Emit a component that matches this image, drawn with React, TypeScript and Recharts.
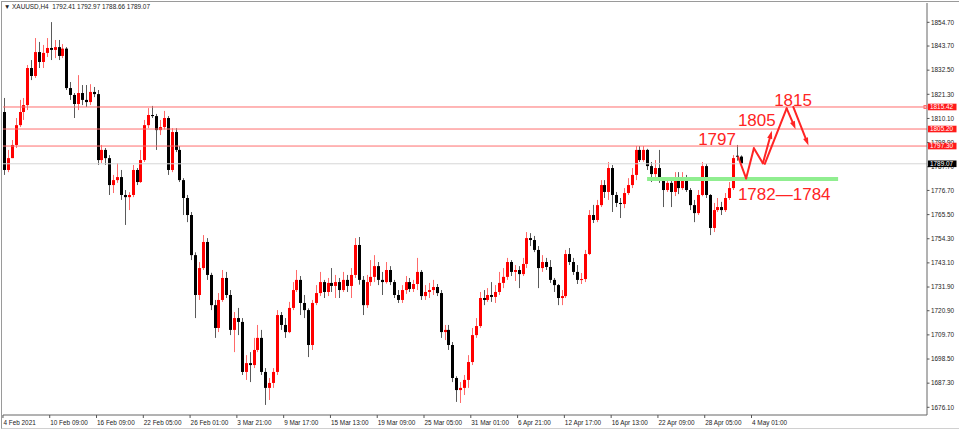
import {
  ComposedChart,
  Bar,
  XAxis,
  YAxis,
  ReferenceLine,
  ReferenceDot,
} from "recharts";

// H4 candles (one candle here ~ two H4 bars)
const opens = [
  1813.1, 1786.2, 1791.7, 1797.8, 1807.0, 1813.1, 1816.3, 1833.5, 1829.8, 1840.9,
  1836.3, 1840.5, 1842.8, 1841.9, 1843.2, 1839.1, 1842.5, 1824.2, 1821.0, 1816.8,
  1821.9, 1818.7, 1817.7, 1822.4, 1821.4, 1790.8, 1795.5, 1791.7, 1779.2, 1781.5,
  1782.9, 1774.6, 1773.6, 1774.6, 1786.2, 1780.6, 1790.8, 1807.0, 1811.7, 1811.2,
  1804.7, 1806.1, 1810.3, 1786.2, 1803.8, 1795.5, 1781.5, 1773.2, 1765.3, 1746.7,
  1728.2, 1740.7, 1752.8, 1737.5, 1723.5, 1712.9, 1725.9, 1736.1, 1728.2, 1712.0,
  1717.5, 1715.7, 1692.5, 1696.6, 1695.7, 1702.7, 1708.3, 1692.5, 1685.1, 1687.4,
  1692.5, 1718.9, 1714.3, 1711.0, 1722.2, 1730.5, 1735.2, 1724.5, 1721.2, 1705.0,
  1724.5, 1729.1, 1734.2, 1729.6, 1733.8, 1732.4, 1734.2, 1730.5, 1735.2, 1732.4,
  1737.5, 1751.4, 1735.2, 1723.5, 1734.2, 1736.6, 1741.6, 1735.2, 1734.2, 1739.8,
  1734.2, 1728.2, 1725.9, 1730.5, 1734.2, 1731.0, 1733.3, 1738.9, 1727.7, 1729.6,
  1730.5, 1731.9, 1729.1, 1711.0, 1712.0, 1705.0, 1689.7, 1684.1, 1685.1, 1688.8,
  1697.1, 1709.6, 1713.8, 1726.8, 1725.9, 1728.2, 1727.3, 1729.6, 1733.8, 1736.6,
  1743.5, 1738.9, 1739.8, 1737.9, 1742.6, 1754.6, 1753.7, 1749.1, 1740.7, 1743.5,
  1741.2, 1735.2, 1732.8, 1726.8, 1727.7, 1747.2, 1743.5, 1738.9, 1735.2, 1735.6,
  1747.2, 1765.3, 1763.0, 1769.9, 1779.2, 1776.0, 1787.1, 1774.6, 1770.9, 1770.4,
  1775.5, 1779.2, 1783.9, 1795.5, 1790.8, 1795.5, 1788.0, 1784.3, 1787.1, 1781.5,
  1776.9, 1780.2, 1776.0, 1782.5, 1777.8, 1782.5, 1776.9, 1769.9, 1766.2, 1774.6,
  1788.0, 1774.6, 1759.3, 1767.6, 1769.0, 1767.6, 1773.2, 1777.8, 1792.8, 1792.41,
];
const highs = [
  1819.6, 1795.5, 1800.1, 1810.3, 1818.7, 1819.6, 1834.9, 1837.2, 1847.4, 1845.6,
  1844.2, 1847.4, 1854.8, 1846.5, 1846.5, 1844.6, 1843.2, 1827.0, 1821.9, 1830.2,
  1825.6, 1825.6, 1826.0, 1824.7, 1823.3, 1797.8, 1796.4, 1793.1, 1783.9, 1789.4,
  1786.2, 1776.9, 1775.9, 1788.5, 1787.1, 1795.5, 1809.4, 1814.9, 1815.9, 1812.2,
  1809.4, 1813.6, 1811.2, 1805.6, 1805.6, 1797.3, 1782.4, 1774.6, 1766.7, 1748.0,
  1743.5, 1756.0, 1754.6, 1738.5, 1725.9, 1729.1, 1739.8, 1738.9, 1730.5, 1720.3,
  1722.2, 1717.5, 1700.3, 1701.7, 1708.3, 1714.3, 1712.0, 1694.3, 1689.7, 1694.3,
  1721.2, 1720.3, 1717.5, 1725.0, 1734.2, 1739.8, 1737.0, 1728.2, 1722.0, 1725.9,
  1732.8, 1738.9, 1735.2, 1736.1, 1740.7, 1737.5, 1736.1, 1738.9, 1737.5, 1740.7,
  1754.6, 1755.1, 1737.0, 1737.5, 1744.4, 1746.7, 1743.5, 1738.9, 1743.5, 1741.6,
  1735.2, 1730.5, 1732.8, 1737.0, 1736.1, 1735.2, 1745.4, 1739.8, 1732.8, 1733.8,
  1735.2, 1733.3, 1730.5, 1714.3, 1714.3, 1706.4, 1690.5, 1687.8, 1691.1, 1700.3,
  1712.9, 1717.5, 1729.6, 1730.5, 1731.4, 1734.2, 1732.8, 1738.9, 1740.7, 1745.4,
  1744.4, 1742.1, 1741.6, 1745.4, 1757.4, 1756.9, 1755.6, 1750.9, 1746.7, 1745.4,
  1744.4, 1736.1, 1733.3, 1730.5, 1749.1, 1750.0, 1745.4, 1742.1, 1738.4, 1749.1,
  1767.6, 1770.0, 1772.3, 1781.5, 1781.5, 1789.9, 1788.5, 1776.0, 1773.2, 1777.8,
  1782.4, 1787.1, 1797.3, 1797.3, 1797.3, 1796.0, 1789.9, 1790.8, 1795.5, 1782.5,
  1782.5, 1782.5, 1785.2, 1785.2, 1785.2, 1783.9, 1777.8, 1772.3, 1776.9, 1789.9,
  1789.0, 1775.0, 1770.9, 1773.2, 1771.4, 1775.5, 1780.6, 1793.1, 1797.8, 1792.97,
];
const lows = [
  1783.9, 1785.2, 1791.7, 1796.4, 1806.1, 1809.4, 1814.0, 1827.9, 1828.9, 1833.5,
  1833.5, 1838.6, 1837.2, 1838.1, 1837.2, 1838.1, 1823.3, 1818.7, 1810.3, 1814.0,
  1816.3, 1815.4, 1816.3, 1820.0, 1788.5, 1789.4, 1788.5, 1774.6, 1775.5, 1780.2,
  1772.3, 1760.7, 1767.6, 1773.6, 1779.2, 1780.2, 1789.9, 1805.6, 1810.3, 1795.5,
  1802.4, 1805.0, 1783.9, 1785.2, 1794.5, 1780.6, 1765.3, 1762.0, 1744.4, 1717.5,
  1725.9, 1739.8, 1735.2, 1721.2, 1708.3, 1711.0, 1725.0, 1726.8, 1709.6, 1701.7,
  1709.6, 1691.1, 1688.8, 1687.8, 1694.3, 1701.7, 1691.1, 1677.2, 1679.5, 1685.1,
  1691.1, 1712.0, 1708.3, 1710.5, 1721.2, 1729.6, 1718.9, 1717.5, 1699.4, 1702.7,
  1723.5, 1727.7, 1726.8, 1727.7, 1729.6, 1726.8, 1726.8, 1729.6, 1729.6, 1726.8,
  1736.1, 1733.0, 1718.9, 1722.2, 1732.4, 1734.2, 1732.8, 1728.2, 1733.5, 1732.8,
  1726.8, 1724.5, 1724.5, 1728.7, 1729.6, 1729.6, 1730.5, 1725.9, 1725.9, 1726.8,
  1728.2, 1727.7, 1708.3, 1707.3, 1702.7, 1687.8, 1678.6, 1678.1, 1681.8, 1685.1,
  1695.7, 1708.3, 1712.9, 1723.5, 1725.0, 1725.0, 1724.5, 1728.2, 1731.4, 1735.2,
  1737.0, 1734.7, 1731.4, 1737.0, 1740.7, 1750.9, 1748.1, 1731.4, 1738.9, 1739.8,
  1733.8, 1729.6, 1723.5, 1723.5, 1726.8, 1742.1, 1737.5, 1733.3, 1733.3, 1734.2,
  1746.7, 1761.6, 1762.0, 1769.0, 1773.2, 1772.3, 1766.7, 1769.0, 1763.9, 1768.5,
  1774.6, 1777.8, 1781.5, 1789.9, 1790.0, 1786.2, 1780.6, 1782.5, 1780.2, 1769.0,
  1776.0, 1769.0, 1774.1, 1775.0, 1776.9, 1776.0, 1767.6, 1762.0, 1765.3, 1774.0,
  1773.2, 1756.0, 1757.4, 1766.7, 1765.3, 1766.7, 1772.3, 1776.9, 1790.5, 1788.66,
];
const closes = [
  1786.2, 1791.7, 1797.8, 1807.0, 1813.1, 1816.3, 1833.5, 1829.8, 1840.9, 1836.3,
  1840.5, 1842.8, 1841.9, 1843.2, 1839.1, 1842.5, 1824.2, 1821.0, 1816.8, 1821.9,
  1818.7, 1817.7, 1822.4, 1821.4, 1790.8, 1795.5, 1791.7, 1779.2, 1781.5, 1782.9,
  1774.6, 1773.6, 1774.6, 1786.2, 1780.6, 1790.8, 1807.0, 1811.7, 1811.2, 1804.7,
  1806.1, 1810.3, 1786.2, 1803.8, 1795.5, 1781.5, 1773.2, 1765.3, 1746.7, 1728.2,
  1740.7, 1752.8, 1737.5, 1723.5, 1712.9, 1725.9, 1736.1, 1728.2, 1712.0, 1717.5,
  1715.7, 1692.5, 1696.6, 1695.7, 1702.7, 1708.3, 1692.5, 1685.1, 1687.4, 1692.5,
  1718.9, 1714.3, 1711.0, 1722.2, 1730.5, 1735.2, 1724.5, 1721.2, 1705.0, 1724.5,
  1729.1, 1734.2, 1729.6, 1733.8, 1732.4, 1734.2, 1730.5, 1735.2, 1732.4, 1737.5,
  1751.4, 1735.2, 1723.5, 1734.2, 1736.6, 1741.6, 1735.2, 1734.2, 1739.8, 1734.2,
  1728.2, 1725.9, 1730.5, 1734.2, 1731.0, 1733.3, 1738.9, 1727.7, 1729.6, 1730.5,
  1731.9, 1729.1, 1711.0, 1712.0, 1705.0, 1689.7, 1684.1, 1685.1, 1688.8, 1697.1,
  1709.6, 1713.8, 1726.8, 1725.9, 1728.2, 1727.3, 1729.6, 1733.8, 1736.6, 1743.5,
  1738.9, 1739.8, 1737.9, 1742.6, 1754.6, 1753.7, 1749.1, 1740.7, 1743.5, 1741.2,
  1735.2, 1732.8, 1726.8, 1727.7, 1747.2, 1743.5, 1738.9, 1735.2, 1735.6, 1747.2,
  1765.3, 1763.0, 1769.9, 1779.2, 1776.0, 1787.1, 1774.6, 1770.9, 1770.4, 1775.5,
  1779.2, 1783.9, 1795.5, 1790.8, 1795.5, 1788.0, 1784.3, 1787.1, 1781.5, 1776.9,
  1780.2, 1776.0, 1782.5, 1777.8, 1782.5, 1776.9, 1769.9, 1766.2, 1774.6, 1788.0,
  1774.6, 1759.3, 1767.6, 1769.0, 1767.6, 1773.2, 1777.8, 1791.7, 1792.4, 1789.07,
];

const slotCount = 237; // candles + empty space on the right
const timeLabels = [
  "4 Feb 2021", "10 Feb 09:00", "16 Feb 09:00", "22 Feb 05:00", "26 Feb 01:00",
  "3 Mar 21:00", "9 Mar 17:00", "15 Mar 13:00", "19 Mar 09:00", "25 Mar 05:00",
  "31 Mar 01:00", "6 Apr 21:00", "12 Apr 17:00", "16 Apr 13:00", "22 Apr 09:00",
  "28 Apr 05:00", "4 May 01:00",
];
const priceTicks = [
  1676.1, 1687.3, 1698.5, 1709.7, 1720.9, 1731.9, 1743.1, 1754.3, 1765.5,
  1776.7, 1787.7, 1798.9, 1810.1, 1821.3, 1832.5, 1843.7, 1854.7,
];
const levels = [1815.42, 1805.2, 1797.3];
const lastPrice = 1789.07;
const zone = { from: 164.7, to: 213.7, price: 1782.0 };

const notes = [
  { text: "1797", i: 177.8, p: 1797.8 },
  { text: "1805", i: 188.0, p: 1806.4 },
  { text: "1815", i: 197.3, p: 1816.1 },
  { text: "1782\u20141784", i: 188.0, p: 1772.3 },
];

// forecast path: [i1, p1, i2, p2, arrowhead]
const path: [number, number, number, number, boolean][] = [
  [188.1, 1792.1, 190.1, 1782.3, false],
  [190.1, 1782.3, 192.1, 1796.3, false],
  [192.1, 1796.3, 194.4, 1789.3, false],
  [194.4, 1789.3, 196.7, 1804.4, true],
  [194.9, 1789.0, 200.5, 1814.8, false],
  [200.5, 1814.8, 202.8, 1805.1, true],
  [202.2, 1815.5, 206.1, 1797.5, true],
];

const data = Array.from({ length: slotCount }, (_, i) =>
  i < closes.length
    ? { i, o: opens[i], h: highs[i], l: lows[i], c: closes[i] }
    : { i }
);

const RED = "#ff2424";
const AXIS_FONT = "'Liberation Sans', Arial, sans-serif";

const Candle = (props: any) => {
  const { x, y, width, height, payload } = props;
  if (payload == null || payload.c == null || height == null) return <g />;
  const { o, h, l, c } = payload;
  const top = Math.min(y, y + height);
  const span = Math.abs(height);
  const k = h === l ? 0 : span / (h - l);
  const up = c >= o;
  const cx = Math.floor(x + width / 2) + 0.5;
  const bTop = top + (h - Math.max(o, c)) * k;
  const bBot = top + (h - Math.min(o, c)) * k;
  return (
    <g>
      <line
        x1={cx}
        x2={cx}
        y1={top}
        y2={top + span}
        stroke={up ? "#ff6a6a" : "#5a5a5a"}
        strokeWidth={1}
      />
      <rect
        x={cx - 1.5}
        y={bTop}
        width={3}
        height={Math.max(1, bBot - bTop)}
        fill={up ? "#ff0000" : "#000000"}
      />
    </g>
  );
};

const TimeTick = (props: any) => {
  const { x, payload } = props;
  const label = timeLabels[payload.value / 12];
  if (!label) return <g />;
  return (
    <g>
      <line x1={x - 2} x2={x - 2} y1={415} y2={418} stroke="#555" />
      <text x={x - 1.5} y={424.5} fontSize={6.4} fill="#222" fontFamily={AXIS_FONT}>
        {label}
      </text>
    </g>
  );
};

const PriceTick = (props: any) => {
  const { y, payload } = props;
  const v = payload.value;
  const isLevel = levels.includes(v);
  const isLast = v === lastPrice;
  if (isLevel || isLast) {
    return (
      <g>
        {isLevel && v === levels[0] && (
          <rect x={924} y={y - 1.5} width={3} height={3} fill="none" stroke="#ff6e6e" />
        )}
        <rect x={928} y={y - 3.3} width={28.5} height={6.6} fill={isLast ? "#000" : "#ff1a1a"} />
        <text x={930} y={y + 2.3} fontSize={6.4} fill="#fff" fontFamily={AXIS_FONT}>
          {v.toFixed(2)}
        </text>
      </g>
    );
  }
  return (
    <g>
      <line x1={927} x2={929.5} y1={y} y2={y} stroke="#555" />
      <text x={931} y={y + 2.3} fontSize={6.4} fill="#222" fontFamily={AXIS_FONT}>
        {v.toFixed(2)}
      </text>
    </g>
  );
};

const arrowShape = (head: boolean) => (p: any) => {
  const { x1, y1, x2, y2 } = p;
  const a = Math.atan2(y2 - y1, x2 - x1);
  const len = 8;
  const w = 2.6;
  const bx = x2 - len * Math.cos(a);
  const by = y2 - len * Math.sin(a);
  const pts = `${x2},${y2} ${bx + w * Math.sin(a)},${by - w * Math.cos(a)} ${
    bx - w * Math.sin(a)
  },${by + w * Math.cos(a)}`;
  return (
    <g>
      <line
        x1={x1}
        y1={y1}
        x2={head ? bx : x2}
        y2={head ? by : y2}
        stroke={RED}
        strokeWidth={2}
        strokeLinecap="round"
      />
      {head && <polygon points={pts} fill={RED} />}
    </g>
  );
};

export default function App() {
  return (
    <div
      style={{
        position: "absolute",
        left: 0,
        top: 0,
        width: 960,
        height: 429,
        background: "#fff",
        overflow: "hidden",
      }}
    >
      <ComposedChart
        width={960}
        height={429}
        data={data}
        margin={{ top: 3, right: 0, bottom: 0, left: 3 }}
      >
        <XAxis
          dataKey="i"
          type="category"
          interval={11}
          height={14}
          tickLine={false}
          axisLine={{ stroke: "#666" }}
          tick={<TimeTick />}
        />
        <XAxis
          xAxisId="num"
          dataKey="i"
          type="number"
          domain={[-0.5, slotCount - 0.5]}
          allowDataOverflow
          hide
        />
        <YAxis
          orientation="right"
          width={33}
          type="number"
          domain={[1672.53, 1863.66]}
          allowDataOverflow
          ticks={[...priceTicks, ...levels, lastPrice]}
          interval={0}
          tickLine={false}
          axisLine={{ stroke: "#666" }}
          tick={<PriceTick />}
        />
        {levels.map((v) => (
          <ReferenceLine key={v} y={v} stroke="#ff6e6e" strokeWidth={1} />
        ))}
        <ReferenceLine y={lastPrice} stroke="#d6d6d6" strokeWidth={1} />
        <ReferenceLine
          xAxisId="num"
          segment={[
            { x: zone.from, y: zone.price },
            { x: zone.to, y: zone.price },
          ]}
          stroke="#90ee90"
          strokeWidth={4}
        />
        <Bar
          dataKey={(d: any) => (d.c == null ? null : [d.l, d.h])}
          shape={Candle}
          barSize={3}
          isAnimationActive={false}
        />
        {path.map(([i1, p1, i2, p2, head], k) => (
          <ReferenceLine
            key={`seg-${k}`}
            xAxisId="num"
            segment={[
              { x: i1, y: p1 },
              { x: i2, y: p2 },
            ]}
            shape={arrowShape(head)}
          />
        ))}
        {notes.map((n) => (
          <ReferenceDot
            key={n.text}
            xAxisId="num"
            x={n.i}
            y={n.p}
            r={0}
            shape={(p: any) => (
              <text
                x={p.cx}
                y={p.cy}
                fill={RED}
                fontSize={17}
                fontFamily="'Liberation Sans', Arial, sans-serif"
              >
                {n.text}
              </text>
            )}
          />
        ))}
      </ComposedChart>
      <div
        style={{
          position: "absolute",
          left: 1,
          top: 1,
          width: 957,
          height: 426,
          borderTop: "1px solid #9a9a9a",
          borderLeft: "1px solid #9a9a9a",
          borderBottom: "1px solid #d0d0d0",
          pointerEvents: "none",
        }}
      />
      <div
        style={{
          position: "absolute",
          left: 4,
          top: 3,
          fontSize: 6.4,
          lineHeight: "8px",
          color: "#222",
          fontFamily: AXIS_FONT,
          whiteSpace: "pre",
        }}
      >
        {"\u25BC XAUUSD,H4  1792.41 1792.97 1788.66 1789.07"}
      </div>
    </div>
  );
}
